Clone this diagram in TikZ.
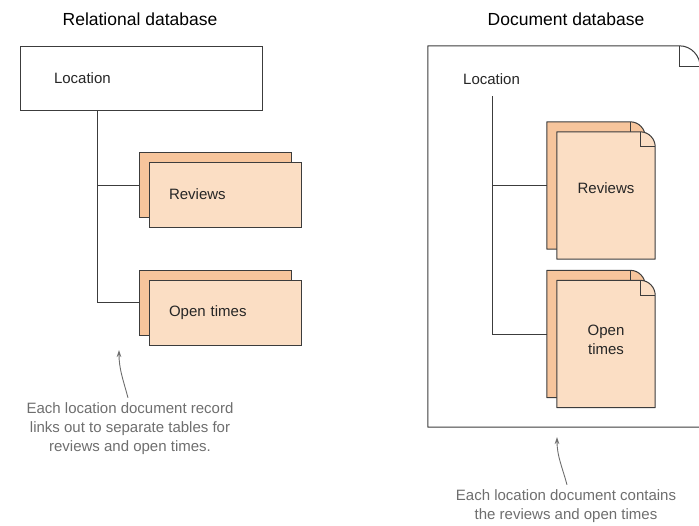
\documentclass[tikz,border=0pt]{standalone}
\usepackage{fontspec}
\setmainfont{Liberation Sans}
\usetikzlibrary{arrows.meta,positioning,backgrounds}
\definecolor{cardfront}{HTML}{FBDEC4}
\definecolor{cardback}{HTML}{F7C59C}
\definecolor{edgegray}{HTML}{3C3C3C}
\definecolor{notegray}{HTML}{6E6E6E}

% page outline with a dog-eared corner round a node
\newcommand{\dogear}[3]{%
  \filldraw[fill=#2, draw=edgegray, line width=1pt, line join=round]
    (#1.south west) -- (#1.north west) -- ([xshift=-#3pt]#1.north east)
    .. controls ([xshift=-0.4*#3pt]#1.north east) and ([yshift=-0.5*#3pt]#1.north east) .. ([yshift=-#3pt]#1.north east)
    -- (#1.south east) -- cycle;
  \draw[edgegray, line width=1pt] ([xshift=-#3pt]#1.north east) |- ([yshift=-#3pt]#1.north east);}

\begin{document}
\begin{tikzpicture}[x=1pt, y=1pt,
  title/.style={font=\fontsize{17.5}{21}\selectfont},
  body/.style={font=\fontsize{15}{19}\selectfont, text=black!85},
  card/.style={draw=edgegray, line width=1pt, minimum width=152pt, minimum height=65pt, text width=112pt, align=left, inner xsep=0pt, body},
  page/.style={minimum width=98pt, minimum height=127pt, inner sep=0pt, align=center, body},
  link/.style={draw=edgegray, line width=1pt},
  note/.style={font=\fontsize{15}{19}\selectfont, text=notegray, align=center, inner sep=2pt},
  notearrow/.style={draw=notegray, line width=0.9pt, -{Stealth[length=7pt,width=4.5pt]}}]
  \useasboundingbox (0,0) rectangle (699,-525);
  \clip (0,0) rectangle (699,-525);

  % relational side
  \node[title] (reltitle) at (140,-19) {Relational database};
  \node[draw=edgegray, line width=1pt, fill=white, minimum width=242pt, minimum height=64pt, text width=174pt, align=left, inner xsep=0pt, body] (loc) at (141,-78) {Location};
  \node[card, fill=cardback] (rvback) at (215,-185) {};
  \node[card, fill=cardfront] (rv) at (225,-194.5) {Reviews};
  \node[card, fill=cardback] (otback) at (215,-302.5) {};
  \node[card, fill=cardfront] (ot) at (225,-312.5) {Open times};
  \coordinate (rtrunk) at (97,-110);
  \draw[link] (rtrunk) |- (rvback.west);
  \draw[link] (rtrunk) |- (otback.west);

  \node[note] (relnote) at (130,-429) {Each location document record\\links out to separate tables for\\reviews and open times.};
  \coordinate (relhit) at (119,-350);
  \draw[notearrow] ([xshift=-2pt,yshift=3pt]relnote.north) to[out=105,in=-90] (relhit);

  % document side
  \node[title] (doctitle) at (566,-19) {Document database};
  \node[minimum width=272pt, minimum height=381pt, inner sep=0pt] (docdb) at (564,-236.5) {};
  \node[body, anchor=west, inner sep=0pt] (dloc) at (463,-79) {Location};
  \node[page] (rvdback) at (596,-185.5) {};
  \node[page, text depth=15pt] (rvdoc) at (606,-195.5) {Reviews};
  \node[page] (otdback) at (596,-334) {};
  \node[page, text depth=8pt] (otdoc) at (606,-344) {Open\\times};
  \begin{scope}[on background layer]
    \dogear{docdb}{white}{21}
    \dogear{rvdback}{cardback}{15}
    \dogear{rvdoc}{cardfront}{15}
    \dogear{otdback}{cardback}{15}
    \dogear{otdoc}{cardfront}{15}
  \end{scope}
  \coordinate (dtrunk) at (492,-96);
  \draw[link] (dtrunk) |- (rvdback.west);
  \draw[link] (dtrunk) |- (otdback.west);

  \node[note] (docnote) at (566,-506.5) {Each location document contains\\the reviews and open times};
  \coordinate (dochit) at (557,-437);
  \draw[notearrow] ([xshift=1pt,yshift=3pt]docnote.north) to[out=105,in=-90] (dochit);
\end{tikzpicture}
\end{document}
